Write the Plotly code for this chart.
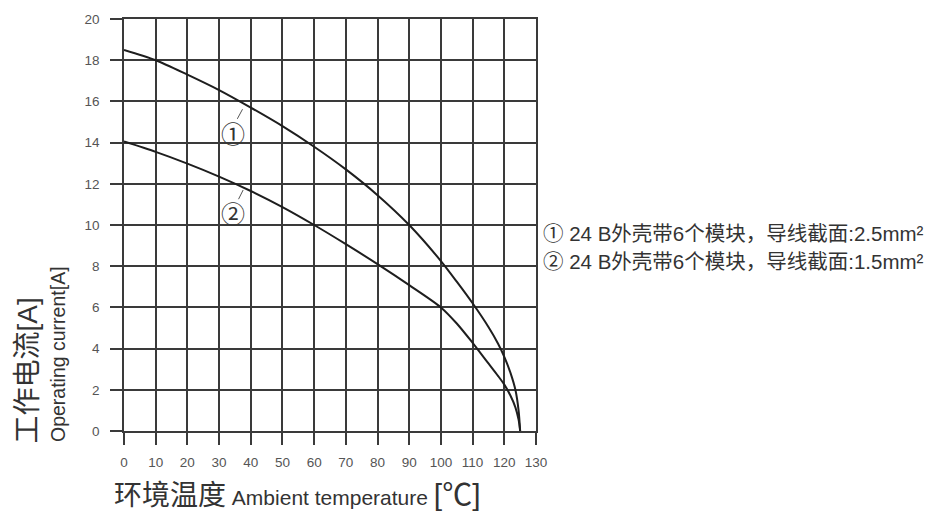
import plotly.graph_objects as go

# ---- data ----
temps = [0, 10, 20, 30, 40, 50, 60, 70, 80, 90, 100, 105, 110, 115, 118, 120, 122, 123.5, 124.5, 125]
current_1 = [18.5, 18.0, 17.3, 16.55, 15.7, 14.8, 13.8, 12.7, 11.45, 10.0, 8.25, 7.25, 6.2, 5.05, 4.25, 3.6, 2.8, 2.0, 1.0, 0]
current_2 = [14.05, 13.55, 12.98, 12.35, 11.65, 10.87, 10.0, 9.07, 8.1, 7.08, 6.0, 5.22, 4.28, 3.28, 2.68, 2.25, 1.7, 1.15, 0.55, 0]

x_ticks = [0, 10, 20, 30, 40, 50, 60, 70, 80, 90, 100, 110, 120, 130]
y_ticks = [0, 2, 4, 6, 8, 10, 12, 14, 16, 18, 20]

legend_1 = "① 24 B外壳带6个模块，导线截面:2.5mm²"
legend_2 = "② 24 B外壳带6个模块，导线截面:1.5mm²"
marker_1 = "①"
marker_2 = "②"
y_title_cn = "工作电流[A]"
y_title_en = "Operating current[A]"
x_title_cn = "环境温度"
x_title_en = "Ambient temperature"
x_title_unit = "[℃]"

FONT = "Liberation Sans, Arial, Noto Sans CJK SC, sans-serif"
GRID = "#3a3a3a"
LINE = "#1e1e1e"

fig = go.Figure()
for ys in (current_1, current_2):
    fig.add_trace(go.Scatter(
        x=temps, y=ys, mode="lines",
        line=dict(color=LINE, width=2, shape="spline", smoothing=0.8),
        showlegend=False, hoverinfo="skip",
    ))

axis_common = dict(
    showgrid=True, gridcolor=GRID, gridwidth=1.5,
    zeroline=False,
    showline=True, linecolor=GRID, linewidth=1.5, mirror=True,
    ticks="outside", ticklen=12, tickwidth=1.5, tickcolor=GRID,
    tickfont=dict(family=FONT, size=13.5, color="#555555"),
)

fig.update_xaxes(range=[0, 130], tickvals=x_ticks, ticktext=[str(v) for v in x_ticks],
                 ticklabelstandoff=6, **axis_common)
fig.update_yaxes(range=[0, 20], tickvals=y_ticks, ticktext=[str(v) for v in y_ticks],
                 ticklabelstandoff=8, **axis_common)

annotations = []
# circled markers and their leader lines
for txt, tx, ty, x0, y0, x1, y1 in (
    (marker_1, 34.3, 14.5, 35.5, 15.08, 37.4, 15.62),
    (marker_2, 34.4, 10.62, 35.9, 11.18, 37.6, 11.7),
):
    annotations.append(dict(
        x=tx, y=ty, xref="x", yref="y", text=txt, showarrow=False,
        xanchor="center", yanchor="middle",
        font=dict(family="Noto Sans CJK SC", size=24, color="#333333"),
    ))
    annotations.append(dict(
        x=x1, y=y1, xref="x", yref="y", ax=x0, ay=y0, axref="x", ayref="y",
        text="", showarrow=True, arrowhead=0, arrowwidth=1, arrowcolor="#555555",
        standoff=0, startstandoff=0,
    ))

# legend text (right of the plot)
for txt, yy in ((legend_1, 0.480), (legend_2, 0.412)):
    annotations.append(dict(
        x=1.012, y=yy, xref="paper", yref="paper", xanchor="left", yanchor="middle",
        text=txt, showarrow=False,
        font=dict(family=FONT, size=20.5, color="#333333"),
    ))

# y-axis titles
annotations.append(dict(
    x=-0.234, y=0.146, xref="paper", yref="paper", xanchor="center", yanchor="middle",
    text=y_title_cn, textangle=-90, showarrow=False,
    font=dict(family=FONT, size=28, color="#333333"),
))
annotations.append(dict(
    x=-0.160, y=0.187, xref="paper", yref="paper", xanchor="center", yanchor="middle",
    text=y_title_en, textangle=-90, showarrow=False,
    font=dict(family=FONT, size=19.5, color="#333333"),
))

# x-axis title
annotations.append(dict(
    x=-0.029, y=-0.154, xref="paper", yref="paper", xanchor="left", yanchor="middle",
    text=(f'<span style="font-size:28px">{x_title_cn}</span> '
          f'<span style="font-size:21px">{x_title_en}</span> '
          f'<span style="font-size:30px">{x_title_unit}</span>'),
    showarrow=False,
    font=dict(family=FONT, size=21, color="#333333"),
))

fig.update_layout(
    width=927, height=515,
    margin=dict(l=124, r=391, t=16, b=84),
    paper_bgcolor="white", plot_bgcolor="white",
    annotations=annotations,
    showlegend=False,
)

fig.write_html("out.html", config={"displayModeBar": False},
               post_script="document.body.style.margin='0px';")
